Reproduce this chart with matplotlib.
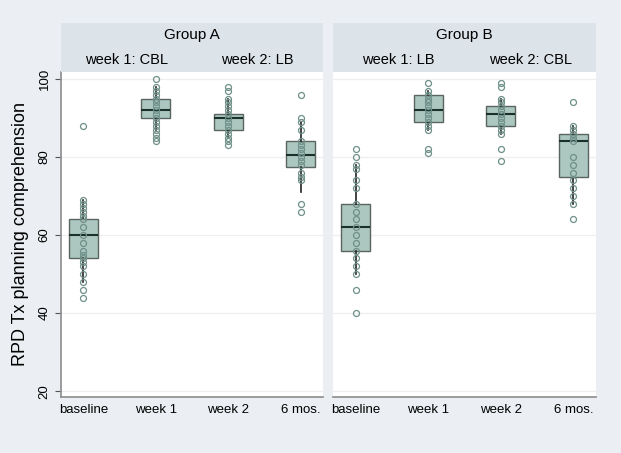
import matplotlib
matplotlib.use("Agg")
import matplotlib.pyplot as plt

plt.rcParams['font.family'] = ['Liberation Sans', 'DejaVu Sans']

timepoints = ['baseline', 'week 1', 'week 2', '6 mos.']
groups = ['Group A', 'Group B']
week_labels = [['week 1: CBL', 'week 2: LB'], ['week 1: LB', 'week 2: CBL']]

# box stats: (whisker low, q1, median, q3, whisker high)
box_a = [(48, 54, 60, 64, 69), (87, 90, 92, 95, 98), (85, 87, 90, 91, 95), (71, 77.5, 80.5, 84, 89)]
box_b = [(50, 56, 62, 68, 78), (87, 89, 92, 96, 97), (86, 88, 91, 93, 95), (68, 75, 84, 86, 88)]

# individual scores per timepoint
pts_a = [
    [88, 69, 68, 67, 66, 65, 64, 62, 60, 58, 56, 55, 54, 53, 52, 50, 48, 46, 44],
    [100, 98, 97, 96, 95, 94, 93, 92, 91, 90, 89, 88, 87, 86, 85, 84],
    [98, 97, 95, 94, 93, 92, 91, 90, 89, 88, 87, 86, 85, 84, 83],
    [96, 90, 89, 87, 84, 83, 82, 81, 80, 79, 78, 76, 75, 74, 68, 66],
]
pts_b = [
    [82, 80, 78, 77, 74, 72, 68, 66, 64, 62, 60, 58, 56, 54, 52, 50, 46, 40],
    [99, 97, 96, 95, 94, 93, 92, 91, 90, 89, 88, 87, 82, 81],
    [99, 98, 95, 94, 93, 92, 91, 90, 89, 88, 87, 86, 82, 79],
    [94, 88, 87, 86, 85, 84, 80, 78, 76, 74, 72, 70, 68, 64],
]

W, H = 621, 453
fig = plt.figure(figsize=(W / 100, H / 100), dpi=100, facecolor='#ebeff3')

panels = [(61, 323, box_a, pts_a), (333, 596, box_b, pts_b)]
top, bottom, strip_top = 72, 397, 23

for i, (x0, x1, boxes, pts) in enumerate(panels):
    ax = fig.add_axes([x0 / W, (H - bottom) / H, (x1 - x0) / W, (bottom - top) / H])
    ax.set_facecolor('white')
    stats = []
    for j, (lo, q1, med, q3, hi) in enumerate(boxes):
        stats.append(dict(whislo=lo, q1=q1, med=med, q3=q3, whishi=hi, fliers=[], label=timepoints[j]))
    ax.bxp(stats, positions=range(4), widths=0.4, patch_artist=True, showcaps=False,
           boxprops=dict(facecolor='#acc7c0', edgecolor='#5a6562', linewidth=1.0),
           medianprops=dict(color='#1c302b', linewidth=1.5),
           whiskerprops=dict(color='#222222', linewidth=1.2), zorder=2)
    for j, vals in enumerate(pts):
        ax.plot([j] * len(vals), vals, 'o', ms=4.3, mfc='none', mec='#6f9088', mew=0.9, zorder=3)

    ax.set_xlim(-0.31, 3.31)
    ax.set_ylim(18.5, 101.8)
    ax.set_yticks([20, 40, 60, 80, 100])
    ax.grid(axis='y', color='#efefef', linewidth=0.9, zorder=0)
    ax.set_axisbelow(True)
    for s in ['top', 'right']:
        ax.spines[s].set_visible(False)
    ax.spines['bottom'].set_color('#8c8c8c')
    ax.spines['bottom'].set_linewidth(1.2)
    ax.tick_params(axis='x', length=0, labelsize=9.5, pad=5)
    if i == 0:
        ax.spines['left'].set_color('#8c8c8c')
        ax.spines['left'].set_linewidth(1.2)
        ax.tick_params(axis='y', length=4, color='#555555', labelsize=9.5)
        for lab in ax.get_yticklabels():
            lab.set_rotation(90)
            lab.set_va('center')
        ax.set_ylabel('RPD Tx planning comprehension', fontsize=13, labelpad=7)
    else:
        ax.spines['left'].set_visible(False)
        ax.tick_params(axis='y', length=0, labelleft=False)

    # header strip
    sx = fig.add_axes([x0 / W, (H - top) / H, (x1 - x0) / W, (top - strip_top) / H])
    sx.set_facecolor('#dce3e9')
    sx.set_xticks([])
    sx.set_yticks([])
    for s in sx.spines.values():
        s.set_visible(False)
    sx.set_xlim(0, 1)
    sx.set_ylim(0, 1)
    sx.text(0.5, 0.75, groups[i], ha='center', va='center', fontsize=11)
    sx.text(0.25, 0.25, week_labels[i][0], ha='center', va='center', fontsize=10.5)
    sx.text(0.75, 0.25, week_labels[i][1], ha='center', va='center', fontsize=10.5)

fig.savefig('out.png', dpi=100, facecolor=fig.get_facecolor())
